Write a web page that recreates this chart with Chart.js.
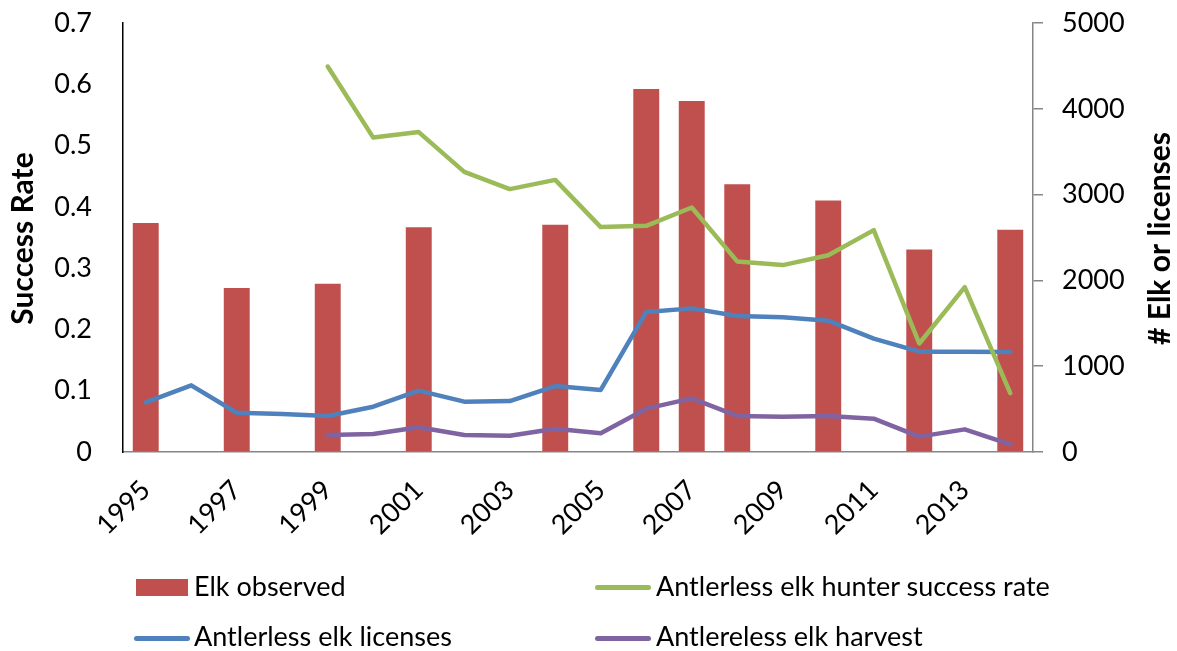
<!DOCTYPE html>
<html>
<head>
<meta charset="utf-8">
<script src="https://cdn.jsdelivr.net/npm/chart.js@4.4.1/dist/chart.umd.min.js"></script>
<style>
  html, body { margin: 0; padding: 0; background: #fff; }
  #wrap { position: relative; width: 1177px; height: 651px; font-family: Lato, "Open Sans", sans-serif; }
  canvas { position: absolute; left: 0; top: 0; }
  .lg { position: absolute; font-size: 27px; line-height: 32px; color: #000; white-space: nowrap; }
  .sw { position: absolute; }
</style>
</head>
<body>
<div id="wrap">
  <canvas id="c" width="1177" height="651"></canvas>
  <div id="legend"></div>
</div>
<script>
const years = ['1995','1996','1997','1998','1999','2000','2001','2002','2003','2004',
               '2005','2006','2007','2008','2009','2010','2011','2012','2013','2014'];
const elkObserved = [2670, null, 1910, null, 1960, null, 2620, null, null, 2650,
                     null, 4230, 4090, 3120, null, 2930, null, 2360, null, 2590];
const successRate = [null, null, null, null, 0.629, 0.513, 0.522, 0.457, 0.429, 0.444,
                     0.367, 0.369, 0.399, 0.311, 0.305, 0.321, 0.362, 0.177, 0.269, 0.096];
const licenses = [579, 777, 458, 443, 420, 528, 715, 587, 594, 769,
                  723, 1632, 1674, 1585, 1570, 1531, 1321, 1169, 1169, 1166];
const harvest = [null, null, null, null, 198, 210, 288, 198, 190, 272,
                 218, 505, 625, 420, 412, 420, 388, 179, 264, 90];
const leftTicks = [0, 0.1, 0.2, 0.3, 0.4, 0.5, 0.6, 0.7];
const rightTicks = [0, 1000, 2000, 3000, 4000, 5000];
const seriesNames = ['Elk observed', 'Antlerless elk hunter success rate', 'Antlerless elk licenses', 'Antlereless elk harvest'];
const leftTitle = 'Success Rate';
const rightTitle = '# Elk or licenses';

const RED = '#C0504D', GREEN = '#9BBB59', BLUE = '#4F81BD', PURPLE = '#8064A2';
const FONT = 'Lato';

const titlesPlugin = {
  id: 'axisTitles',
  afterDraw(chart) {
    const ctx = chart.ctx;
    const ca = chart.chartArea;
    const cy = (ca.top + ca.bottom) / 2 + 1;
    [[23, leftTitle], [1160, rightTitle]].forEach(([x, txt]) => {
      ctx.save();
      ctx.fillStyle = '#000';
      ctx.font = 'bold 30px ' + FONT;
      ctx.textAlign = 'center';
      ctx.textBaseline = 'middle';
      ctx.translate(x, cy);
      ctx.rotate(-Math.PI / 2);
      ctx.fillText(txt, 0, 0);
      ctx.restore();
    });
  }
};

new Chart(document.getElementById('c'), {
  type: 'bar',
  data: {
    labels: years,
    datasets: [
      { type: 'bar', label: seriesNames[0], data: elkObserved, yAxisID: 'y1',
        backgroundColor: RED, borderWidth: 0, barPercentage: 0.57, categoryPercentage: 1, order: 2 },
      { type: 'line', label: seriesNames[1], data: successRate, yAxisID: 'y',
        borderColor: GREEN, borderWidth: 4.5, pointRadius: 0, tension: 0,
        borderCapStyle: 'round', borderJoinStyle: 'round', order: 0 },
      { type: 'line', label: seriesNames[2], data: licenses, yAxisID: 'y1',
        borderColor: BLUE, borderWidth: 4.5, pointRadius: 0, tension: 0,
        borderCapStyle: 'round', borderJoinStyle: 'round', order: 1 },
      { type: 'line', label: seriesNames[3], data: harvest, yAxisID: 'y1',
        borderColor: PURPLE, borderWidth: 4.5, pointRadius: 0, tension: 0,
        borderCapStyle: 'round', borderJoinStyle: 'round', order: 1 }
    ]
  },
  options: {
    responsive: false,
    animation: false,
    events: [],
    layout: { padding: { top: 23, left: 0, right: 0, bottom: 0 } },
    plugins: { legend: { display: false }, tooltip: { enabled: false } },
    scales: {
      x: {
        offset: true,
        grid: { display: false, drawTicks: false },
        border: { display: true, color: '#868686', width: 1.5 },
        ticks: {
          autoSkip: false, maxRotation: 45, minRotation: 45, padding: 22,
          color: '#000', font: { family: FONT, size: 27 },
          callback: function(v, i) { return i % 2 === 0 ? years[i] : ''; }
        },
        afterFit(s) { s.height = 651 - 452; s.paddingLeft = 0; s.paddingRight = 0; }
      },
      y: {
        position: 'left', min: 0, max: 0.7,
        afterBuildTicks(s) { s.ticks = leftTicks.map(v => ({ value: v })); },
        grid: { display: false, drawTicks: false },
        border: { display: true, color: '#000', width: 1.5 },
        ticks: {
          padding: 31, color: '#000', font: { family: FONT, size: 27 },
          callback: v => (v === 0 ? '0' : v.toFixed(1))
        },
        afterFit(s) { s.width = 123; s.paddingTop = 0; s.paddingBottom = 0; }
      },
      y1: {
        position: 'right', min: 0, max: 5000,
        afterBuildTicks(s) { s.ticks = rightTicks.map(v => ({ value: v })); },
        grid: { display: true, drawOnChartArea: false, drawTicks: true, tickLength: 10, color: '#868686', lineWidth: 1.5 },
        border: { display: true, color: '#868686', width: 1.5 },
        ticks: { padding: 19, color: '#000', font: { family: FONT, size: 27 },
          callback: v => String(v) },
        afterFit(s) { s.width = 1177 - 1033; s.paddingTop = 0; s.paddingBottom = 0; }
      }
    }
  },
  plugins: [titlesPlugin]
});

// HTML legend (2 x 2 grid)
const legend = document.getElementById('legend');
const items = [
  { name: seriesNames[0], kind: 'box', color: RED, sx: 136, sw: 52, cy: 587.5, tx: 194, base: 596 },
  { name: seriesNames[1], kind: 'line', color: GREEN, sx: 595, sw: 56, cy: 587, tx: 656, base: 596 },
  { name: seriesNames[2], kind: 'line', color: BLUE, sx: 134, sw: 56, cy: 638, tx: 194, base: 646 },
  { name: seriesNames[3], kind: 'line', color: PURPLE, sx: 595, sw: 56, cy: 638, tx: 656, base: 646 }
];
items.forEach(it => {
  const s = document.createElement('div');
  s.className = 'sw';
  s.style.background = it.color;
  s.style.left = it.sx + 'px';
  s.style.width = it.sw + 'px';
  if (it.kind === 'box') {
    s.style.height = '17px';
    s.style.top = (it.cy - 8.5) + 'px';
  } else {
    s.style.height = '5px';
    s.style.top = (it.cy - 2.5) + 'px';
    s.style.borderRadius = '3px';
  }
  legend.appendChild(s);
  const t = document.createElement('div');
  t.className = 'lg';
  t.textContent = it.name;
  t.style.left = it.tx + 'px';
  t.style.top = (it.base - 26) + 'px';
  legend.appendChild(t);
});
</script>
</body>
</html>
